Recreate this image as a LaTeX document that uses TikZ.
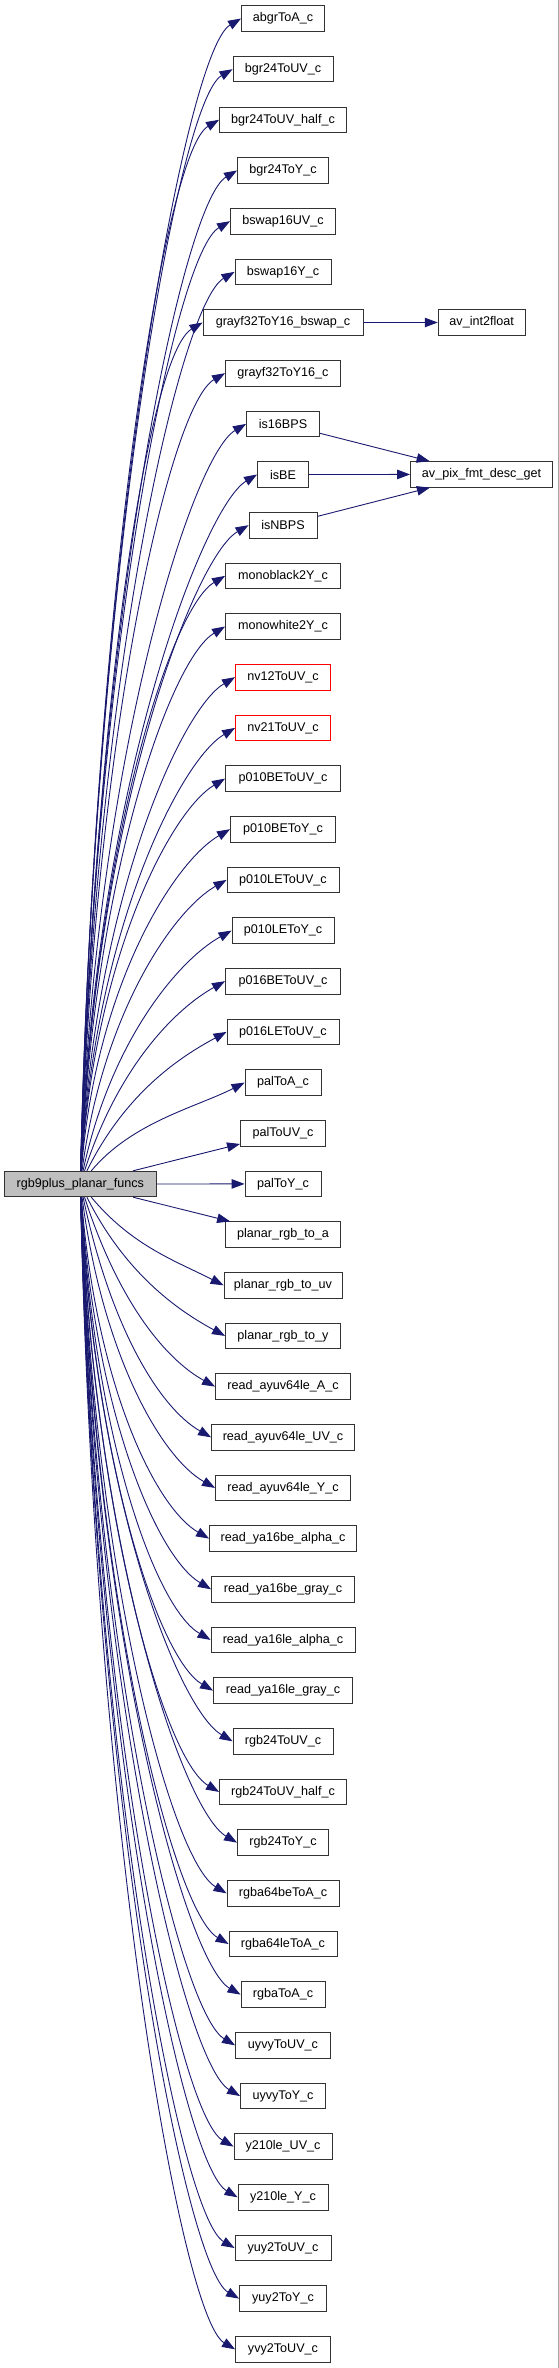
\documentclass[tikz,border=0pt]{standalone}
\usepackage{fontspec}
\setmainfont{Liberation Sans}
\usetikzlibrary{arrows.meta}
\definecolor{callblue}{HTML}{191970}
\definecolor{boxgray}{HTML}{BFBFBF}

\begin{document}
\begin{tikzpicture}[x=1pt, y=-1pt,
  fn/.style={draw=black!80, line width=0.9pt, fill=white, minimum height=25.5pt,
    inner sep=0pt, font=\fontsize{12.6}{15}\selectfont},
  fnred/.style={fn, draw=red},
  root/.style={fn, fill=boxgray},
  call/.style={draw=callblue, line width=0.9pt, -{Triangle[length=13pt, width=9.5pt]}}]
  \useasboundingbox (0,0) rectangle (559,2368);
  \fill[white] (0,0) rectangle (559,2368);
  \draw[gray!70, line width=1pt] (558.3,0) -- (558.3,2368);

  \node[root, minimum width=152] (funcs) at (80.3,1184) {rgb9plus\_planar\_funcs};

  \node[fn, minimum width=83] (abgrToA) at (283,18.5) {abgrToA\_c};
  \node[fn, minimum width=100] (bgr24ToUV) at (283,69.2) {bgr24ToUV\_c};
  \node[fn, minimum width=127] (bgr24ToUVhalf) at (283,119.8) {bgr24ToUV\_half\_c};
  \node[fn, minimum width=91] (bgr24ToY) at (283,170.5) {bgr24ToY\_c};
  \node[fn, minimum width=105] (bswap16UV) at (283,221.2) {bswap16UV\_c};
  \node[fn, minimum width=96] (bswap16Y) at (283,271.9) {bswap16Y\_c};
  \node[fn, minimum width=160] (grayf32ToY16bswap) at (283,322.5) {grayf32ToY16\_bswap\_c};
  \node[fn, minimum width=115] (grayf32ToY16) at (283,373.2) {grayf32ToY16\_c};
  \node[fn, minimum width=73] (is16BPS) at (283,423.9) {is16BPS};
  \node[fn, minimum width=51] (isBE) at (283,474.5) {isBE};
  \node[fn, minimum width=68] (isNBPS) at (283,525.2) {isNBPS};
  \node[fn, minimum width=115] (monoblack2Y) at (283,575.9) {monoblack2Y\_c};
  \node[fn, minimum width=115] (monowhite2Y) at (283,626.5) {monowhite2Y\_c};
  \node[fnred, minimum width=95] (nv12ToUV) at (283,677.2) {nv12ToUV\_c};
  \node[fnred, minimum width=95] (nv21ToUV) at (283,727.9) {nv21ToUV\_c};
  \node[fn, minimum width=115] (p010BEToUV) at (283,778.6) {p010BEToUV\_c};
  \node[fn, minimum width=105] (p010BEToY) at (283,829.2) {p010BEToY\_c};
  \node[fn, minimum width=112] (p010LEToUV) at (283,879.9) {p010LEToUV\_c};
  \node[fn, minimum width=102] (p010LEToY) at (283,930.6) {p010LEToY\_c};
  \node[fn, minimum width=115] (p016BEToUV) at (283,981.2) {p016BEToUV\_c};
  \node[fn, minimum width=112] (p016LEToUV) at (283,1031.9) {p016LEToUV\_c};
  \node[fn, minimum width=76] (palToA) at (283,1082.6) {palToA\_c};
  \node[fn, minimum width=85] (palToUV) at (283,1133.2) {palToUV\_c};
  \node[fn, minimum width=76] (palToY) at (283,1183.9) {palToY\_c};
  \node[fn, minimum width=115] (planarA) at (283,1234.6) {planar\_rgb\_to\_a};
  \node[fn, minimum width=118] (planarUV) at (283,1285.3) {planar\_rgb\_to\_uv};
  \node[fn, minimum width=115] (planarY) at (283,1335.9) {planar\_rgb\_to\_y};
  \node[fn, minimum width=135] (ayuvA) at (283,1386.6) {read\_ayuv64le\_A\_c};
  \node[fn, minimum width=143] (ayuvUV) at (283,1437.3) {read\_ayuv64le\_UV\_c};
  \node[fn, minimum width=135] (ayuvY) at (283,1487.9) {read\_ayuv64le\_Y\_c};
  \node[fn, minimum width=147] (ya16beAlpha) at (283,1538.6) {read\_ya16be\_alpha\_c};
  \node[fn, minimum width=143] (ya16beGray) at (283,1589.3) {read\_ya16be\_gray\_c};
  \node[fn, minimum width=144] (ya16leAlpha) at (283,1639.9) {read\_ya16le\_alpha\_c};
  \node[fn, minimum width=139] (ya16leGray) at (283,1690.6) {read\_ya16le\_gray\_c};
  \node[fn, minimum width=100] (rgb24ToUV) at (283,1741.3) {rgb24ToUV\_c};
  \node[fn, minimum width=127] (rgb24ToUVhalf) at (283,1791.9) {rgb24ToUV\_half\_c};
  \node[fn, minimum width=91] (rgb24ToY) at (283,1842.6) {rgb24ToY\_c};
  \node[fn, minimum width=112] (rgba64beToA) at (283,1893.3) {rgba64beToA\_c};
  \node[fn, minimum width=108] (rgba64leToA) at (283,1944) {rgba64leToA\_c};
  \node[fn, minimum width=84] (rgbaToA) at (283,1994.6) {rgbaToA\_c};
  \node[fn, minimum width=95] (uyvyToUV) at (283,2045.3) {uyvyToUV\_c};
  \node[fn, minimum width=85] (uyvyToY) at (283,2096) {uyvyToY\_c};
  \node[fn, minimum width=98] (y210leUV) at (283,2146.6) {y210le\_UV\_c};
  \node[fn, minimum width=90] (y210leY) at (283,2197.3) {y210le\_Y\_c};
  \node[fn, minimum width=96] (yuy2ToUV) at (283,2248) {yuy2ToUV\_c};
  \node[fn, minimum width=87] (yuy2ToY) at (283,2298.6) {yuy2ToY\_c};
  \node[fn, minimum width=95] (yvy2ToUV) at (283,2349.3) {yvy2ToUV\_c};

  \node[fn, minimum width=87] (int2float) at (481.7,322.5) {av\_int2float};
  \node[fn, minimum width=142] (desc) at (481.5,474.4) {av\_pix\_fmt\_desc\_get};

  % calls going up
  \draw[call] (funcs) .. controls (95,537) and (186,51) .. (abgrToA.west);
  \draw[call] (funcs) .. controls (95,565) and (178,101) .. (bgr24ToUV.west);
  \draw[call] (funcs) .. controls (95,593) and (164,152) .. (bgr24ToUVhalf.west);
  \draw[call] (funcs) .. controls (95,621) and (182,203) .. (bgr24ToY.west);
  \draw[call] (funcs) .. controls (95,649) and (175,253) .. (bswap16UV.west);
  \draw[call] (funcs) .. controls (95,676) and (180,304) .. (bswap16Y.west);
  \draw[call] (funcs) .. controls (95,704) and (148,355) .. (grayf32ToY16bswap.west);
  \draw[call] (funcs) .. controls (95,732) and (170,405) .. (grayf32ToY16.west);
  \draw[call] (funcs) .. controls (95,760) and (192,456) .. (is16BPS.west);
  \draw[call] (funcs) .. controls (95,788) and (203,507) .. (isBE.west);
  \draw[call] (funcs) .. controls (95,816) and (194,557) .. (isNBPS.west);
  \draw[call] (funcs) .. controls (95,844) and (171,608) .. (monoblack2Y.west);
  \draw[call] (funcs) .. controls (95,871) and (171,659) .. (monowhite2Y.west);
  \draw[call] (funcs) .. controls (95,899) and (181,709) .. (nv12ToUV.west);
  \draw[call] (funcs) .. controls (95,927) and (181,760) .. (nv21ToUV.west);
  \draw[call] (funcs) .. controls (95,955) and (171,811) .. (p010BEToUV.west);
  \draw[call] (funcs) .. controls (96,983) and (175,861) .. (p010BEToY.west);
  \draw[call] (funcs) .. controls (103,1011) and (174,910) .. (p010LEToUV.west);
  \draw[call] (funcs) .. controls (111,1039) and (180,959) .. (p010LEToY.west);
  \draw[call] (funcs) .. controls (118,1067) and (175,1009) .. (p016BEToUV.west);
  \draw[call] (funcs) .. controls (125,1094) and (178,1058) .. (p016LEToUV.west);
  \draw[call] (funcs) .. controls (132,1122) and (197,1107) .. (palToA.west);
  \draw[call] (funcs) -- (palToUV);
  \draw[call] (funcs) -- (palToY);

  % calls going down
  \draw[call] (funcs) -- (planarA);
  \draw[call] (funcs) .. controls (132,1246) and (176,1261) .. (planarUV.west);
  \draw[call] (funcs) .. controls (125,1273) and (177,1310) .. (planarY.west);
  \draw[call] (funcs) .. controls (118,1301) and (165,1359) .. (ayuvA.west);
  \draw[call] (funcs) .. controls (111,1329) and (160,1408) .. (ayuvUV.west);
  \draw[call] (funcs) .. controls (103,1357) and (162,1458) .. (ayuvY.west);
  \draw[call] (funcs) .. controls (96,1385) and (155,1507) .. (ya16beAlpha.west);
  \draw[call] (funcs) .. controls (95,1413) and (157,1557) .. (ya16beGray.west);
  \draw[call] (funcs) .. controls (95,1441) and (156,1608) .. (ya16leAlpha.west);
  \draw[call] (funcs) .. controls (95,1468) and (159,1659) .. (ya16leGray.west);
  \draw[call] (funcs) .. controls (95,1496) and (178,1709) .. (rgb24ToUV.west);
  \draw[call] (funcs) .. controls (95,1524) and (165,1760) .. (rgb24ToUVhalf.west);
  \draw[call] (funcs) .. controls (95,1552) and (183,1811) .. (rgb24ToY.west);
  \draw[call] (funcs) .. controls (95,1580) and (172,1861) .. (rgba64beToA.west);
  \draw[call] (funcs) .. controls (95,1608) and (174,1912) .. (rgba64leToA.west);
  \draw[call] (funcs) .. controls (95,1636) and (186,1963) .. (rgbaToA.west);
  \draw[call] (funcs) .. controls (95,1664) and (181,2013) .. (uyvyToUV.west);
  \draw[call] (funcs) .. controls (95,1691) and (185,2064) .. (uyvyToY.west);
  \draw[call] (funcs) .. controls (95,1719) and (179,2115) .. (y210leUV.west);
  \draw[call] (funcs) .. controls (95,1747) and (183,2165) .. (y210leY.west);
  \draw[call] (funcs) .. controls (95,1775) and (180,2216) .. (yuy2ToUV.west);
  \draw[call] (funcs) .. controls (95,1803) and (185,2267) .. (yuy2ToY.west);
  \draw[call] (funcs) .. controls (95,1831) and (181,2317) .. (yvy2ToUV.west);

  \draw[call] (grayf32ToY16bswap) -- (int2float);
  \draw[call] (is16BPS) -- (desc);
  \draw[call] (isBE) -- (desc);
  \draw[call] (isNBPS) -- (desc);
\end{tikzpicture}
\end{document}
